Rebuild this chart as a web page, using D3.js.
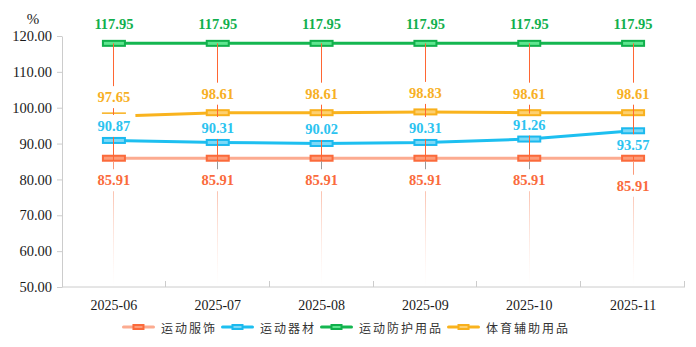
<!DOCTYPE html>
<html><head><meta charset="utf-8">
<script src="https://cdn.jsdelivr.net/npm/d3@7"></script>
<style>body{margin:0;background:#fff}svg{display:block}</style>
</head><body><svg id="c" width="696" height="347"></svg>
<script>
const categories = ["2025-06","2025-07","2025-08","2025-09","2025-10","2025-11"];
const apparel    = [85.91,85.91,85.91,85.91,85.91,85.91];
const equipment  = [90.87,90.31,90.02,90.31,91.26,93.57];
const protective = [117.95,117.95,117.95,117.95,117.95,117.95];
const auxiliary  = [97.65,98.61,98.61,98.83,98.61,98.61];
const seriesNames = ["运动服饰","运动器材","运动防护用品","体育辅助用品"];
const yTicks = [50,60,70,80,90,100,110,120];
const unitLabel = "%";

const serif = "'Liberation Serif','Times New Roman',serif";
const series = [
  {name:seriesNames[0], values:apparel,    line:"#fcab90", stroke:"#fb6a3b", fill:"#fd9b78", label:"#fa6b3c"},
  {name:seriesNames[1], values:equipment,  line:"#1dbff0", stroke:"#1cb9ee", fill:"#7cd9f7", label:"#2cc3f0"},
  {name:seriesNames[2], values:protective, line:"#14b650", stroke:"#10b04c", fill:"#5ee68f", label:"#12b04e"},
  {name:seriesNames[3], values:auxiliary,  line:"#f9b31e", stroke:"#f8b01c", fill:"#fdd070", label:"#f7b025"}
];

const svg = d3.select("#c");
const x = d3.scaleBand().domain(categories).range([62,685]);
const y = d3.scaleLinear().domain([50,120]).range([287,36]);
const cx = c => x(c) + x.bandwidth()/2;
const n = categories.length;

// defs
const defs = svg.append("defs");
const grad = defs.append("linearGradient").attr("id","fade").attr("gradientUnits","userSpaceOnUse")
  .attr("x1",0).attr("x2",0).attr("y1",y(83)).attr("y2",y(50));
grad.append("stop").attr("offset",0).attr("stop-color","#f9a98f").attr("stop-opacity",1);
grad.append("stop").attr("offset",1).attr("stop-color","#fde3da").attr("stop-opacity",0);

// Y axis
const yAxis = svg.append("g").attr("transform","translate(62,0)")
  .call(d3.axisLeft(y).tickValues(yTicks).tickFormat(d3.format(".2f")).tickSize(5).tickSizeOuter(0).tickPadding(5));
yAxis.select(".domain").attr("stroke","#cccccc");
yAxis.selectAll(".tick line").attr("stroke","#cccccc");
yAxis.selectAll(".tick text").attr("font-family",serif).attr("font-size","14.5px").attr("fill","#1a1a1a");
svg.append("text").attr("x",33).attr("y",19).attr("text-anchor","middle").attr("dominant-baseline","central")
  .attr("font-family",serif).attr("font-size","15px").attr("fill","#1a1a1a").text(unitLabel);

// X axis
const xAxis = svg.append("g").attr("transform","translate(0,287)");
xAxis.append("line").attr("x1",62).attr("x2",685).attr("stroke","#cccccc");
d3.range(1,n+1).forEach(i=>{
  const xx = Math.round(x.range()[0] + x.step()*i) - 0.5;
  xAxis.append("line").attr("x1",xx).attr("x2",xx).attr("y1",0).attr("y2",-6).attr("stroke","#cccccc");
});
xAxis.selectAll("text.xl").data(categories).join("text").attr("class","xl")
  .attr("x",d=>cx(d)).attr("y",18).attr("text-anchor","middle").attr("dominant-baseline","central")
  .attr("font-family",serif).attr("font-size","14px").attr("fill","#1a1a1a").text(d=>d);

// label centre positions
function labelY(si,i){
  const v = series[si].values[i];
  if (si===2 || si===3) return y(v)-19;
  if (si===1) return i===n-1 ? y(v)+14.5 : y(v)-14.5;
  return i===n-1 ? y(v)+27.5 : y(v)+22;
}

// lines
const lineGen = d3.line().x((d,i)=>cx(categories[i])).y(d=>y(d));
series.forEach((s,si)=>{
  const p = svg.append("path").attr("d",lineGen(s.values)).attr("fill","none")
    .attr("stroke",s.line).attr("stroke-width",3);
  if (si===3) p.attr("stroke-dasharray","0,21.5,5000");
});

// markers
series.forEach((s,si)=>{
  s.values.forEach((v,i)=>{
    const xx = cx(categories[i]);
    if (si===3 && i===0){
      svg.append("line").attr("x1",xx-12).attr("x2",xx+12).attr("y1",y(v)-3).attr("y2",y(v)-3)
        .attr("stroke",s.stroke).attr("stroke-width",1.5);
      return;
    }
    svg.append("rect").attr("x",xx-11).attr("y",y(v)-2.5).attr("width",22).attr("height",5)
      .attr("fill",s.fill).attr("stroke",s.stroke).attr("stroke-width",2);
  });
});

// vertical drop lines, broken at labels
categories.forEach((c,i)=>{
  const xx = Math.floor(cx(c)) + 0.5;
  const top = y(protective[i]);
  const bottom = y(50);
  const gaps = [labelY(3,i),labelY(1,i),labelY(0,i)].map(g=>[g-11,g+11]).sort((a,b)=>a[0]-b[0]);
  const segs = [];
  let start = top;
  gaps.forEach(g=>{ if (g[0]>start) segs.push([start,g[0]]); start = Math.max(start,g[1]); });
  segs.push([start,bottom]);
  const orangeGapEnd = labelY(0,i)+11;
  const yA = y(apparel[i])+3;
  const mid = i>0 && i<n-1;
  segs.forEach(([a,b])=>{
    if (a>=orangeGapEnd-0.5){
      svg.append("rect").attr("x",xx-0.5).attr("y",a).attr("width",1).attr("height",b-a).attr("fill","url(#fade)");
      return;
    }
    const parts = b<=yA ? [[a,b,"#ff6633"]] : (a>=yA ? [[a,b,mid?"#9a9a9a":"#fb9a7a"]] : [[a,yA,"#ff6633"],[yA,b,mid?"#9a9a9a":"#fb9a7a"]]);
    parts.forEach(([p,q,col])=>{
      svg.append("line").attr("x1",xx).attr("x2",xx).attr("y1",p).attr("y2",q).attr("stroke",col).attr("stroke-width",1);
    });
  });
});

// data labels
series.forEach((s,si)=>{
  s.values.forEach((v,i)=>{
    svg.append("text").attr("x",cx(categories[i])).attr("y",labelY(si,i))
      .attr("text-anchor","middle").attr("dominant-baseline","central")
      .attr("font-family",serif).attr("font-weight","bold").attr("font-size","14.5px")
      .attr("fill",s.label).text(d3.format(".2f")(v));
  });
});

// legend
const lg = svg.append("g");
let lx = 0;
series.forEach(s=>{
  const g = lg.append("g").attr("transform",`translate(${lx},0)`);
  g.append("line").attr("x1",1.5).attr("x2",31.5).attr("y1",0).attr("y2",0)
    .attr("stroke",s.line).attr("stroke-width",3).attr("stroke-linecap","round");
  g.append("rect").attr("x",11.5).attr("y",-2).attr("width",10).attr("height",4)
    .attr("fill",s.fill).attr("stroke",s.stroke).attr("stroke-width",2);
  const t = g.append("text").attr("x",39).attr("y",0).attr("dominant-baseline","central")
    .attr("font-family","'Noto Sans CJK SC',sans-serif").attr("font-size","12px")
    .attr("letter-spacing","2px").attr("fill","#333").text(s.name);
  lx += 39 + t.node().getComputedTextLength() + 4;
});
const lw = lx - 4;
lg.attr("transform",`translate(${346 - lw/2},327)`);
</script></body></html>
